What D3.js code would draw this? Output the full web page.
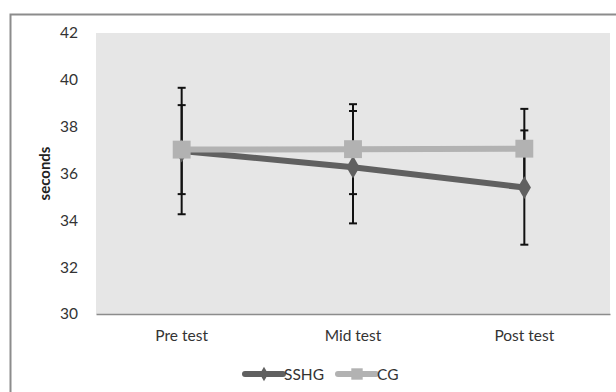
<!DOCTYPE html>
<html>
<head>
<meta charset="utf-8">
<script src="https://cdn.jsdelivr.net/npm/d3@7"></script>
<style>
  body { margin: 0; background: #fff; }
  svg { display: block; font-family: Lato, "Open Sans", sans-serif; }
</style>
</head>
<body>
<div id="chart"></div>
<script>
const categories = ['Pre test', 'Mid test', 'Post test'];
const sshgValues = [36.96, 36.27, 35.40];
const sshgErrors = [2.7, 2.4, 2.44];
const cgValues = [37.02, 37.04, 37.06];
const cgErrors = [1.9, 1.92, 1.7];
const yTicks = [30, 32, 34, 36, 38, 40, 42];

const width = 616, height = 392;
const plot = { left: 96, right: 610, top: 33, bottom: 314 };

const svg = d3.select('#chart')
    .append('svg')
    .attr('width', width)
    .attr('height', height);

// outer border (runs off right/bottom edge like the source)
svg.append('rect')
    .attr('x', 10.5).attr('y', 14.5)
    .attr('width', 620).attr('height', 400)
    .attr('fill', 'none')
    .attr('stroke', '#8c8c8c')
    .attr('stroke-width', 2);

const x = d3.scaleBand()
    .domain(categories)
    .range([plot.left, plot.right]);

const y = d3.scaleLinear()
    .domain([30, 42])
    .range([plot.bottom, plot.top]);

const cx = d => x(d) + x.bandwidth() / 2;

svg.append('rect')
    .attr('x', plot.left).attr('y', plot.top)
    .attr('width', plot.right - plot.left)
    .attr('height', plot.bottom - plot.top)
    .attr('fill', '#e6e6e6');

// y axis labels
const yAxis = svg.append('g')
    .attr('transform', `translate(${plot.left},0)`)
    .call(d3.axisLeft(y).tickValues(yTicks).tickSize(0).tickPadding(18));
yAxis.select('.domain').remove();
yAxis.selectAll('text')
    .style('font-size', '15.5px')
    .style('fill', '#333')
    .style('font-family', 'Lato, sans-serif');

// x axis
const xAxis = svg.append('g')
    .attr('transform', `translate(0,${plot.bottom})`)
    .call(d3.axisBottom(x).tickSize(0).tickPadding(16));
xAxis.select('.domain').attr('stroke', '#8c8c8c').attr('stroke-width', 1.5);
xAxis.selectAll('text')
    .style('font-size', '15.5px')
    .style('fill', '#333')
    .style('font-family', 'Lato, sans-serif');

// y axis title
svg.append('text')
    .attr('transform', `translate(50,${(plot.top + plot.bottom) / 2}) rotate(-90)`)
    .attr('text-anchor', 'middle')
    .style('font-size', '15px')
    .style('font-weight', 'bold')
    .style('fill', '#222')
    .text('seconds');

const series = [
  { name: 'SSHG', values: sshgValues, errors: sshgErrors, color: '#606060', shape: d3.symbolDiamond },
  { name: 'CG', values: cgValues, errors: cgErrors, color: '#b2b2b2', shape: d3.symbolSquare }
];

// error bars
series.forEach(s => {
  const g = svg.append('g').attr('stroke', '#111').attr('stroke-width', 2);
  categories.forEach((c, i) => {
    const hi = y(s.values[i] + s.errors[i]), lo = y(s.values[i] - s.errors[i]);
    g.append('line').attr('x1', cx(c)).attr('x2', cx(c)).attr('y1', hi).attr('y2', lo);
    g.append('line').attr('x1', cx(c) - 4).attr('x2', cx(c) + 4).attr('y1', hi).attr('y2', hi);
    g.append('line').attr('x1', cx(c) - 4).attr('x2', cx(c) + 4).attr('y1', lo).attr('y2', lo);
  });
});

const line = d3.line().x((d, i) => cx(categories[i])).y(d => y(d));

// lines (SSHG under CG)
series.forEach(s => {
  svg.append('path')
      .datum(s.values)
      .attr('d', line)
      .attr('fill', 'none')
      .attr('stroke', s.color)
      .attr('stroke-width', 6);
});

// markers
series.forEach(s => {
  svg.selectAll(null)
      .data(s.values)
      .enter()
      .append('path')
      .attr('transform', (d, i) => `translate(${cx(categories[i])},${y(d)})`)
      .attr('d', d3.symbol().type(s.shape).size(s.name === 'CG' ? 320 : 150))
      .attr('fill', s.color);
});

// legend
const legend = svg.append('g').attr('transform', 'translate(245,374)');
const items = [
  { s: series[0], x: 0, tx: 39 },
  { s: series[1], x: 93, tx: 132 }
];
items.forEach(it => {
  legend.append('line')
      .attr('x1', it.x).attr('x2', it.x + 38)
      .attr('y1', 0).attr('y2', 0)
      .attr('stroke', it.s.color).attr('stroke-width', 6)
      .attr('stroke-linecap', 'round');
  legend.append('path')
      .attr('transform', `translate(${it.x + 19},0)`)
      .attr('d', d3.symbol().type(it.s.shape).size(it.s.name === 'CG' ? 130 : 60))
      .attr('fill', it.s.color);
  legend.append('text')
      .attr('x', it.tx).attr('y', 5.5)
      .style('font-size', '15.5px')
      .style('fill', '#333')
      .text(it.s.name);
});
</script>
</body>
</html>
